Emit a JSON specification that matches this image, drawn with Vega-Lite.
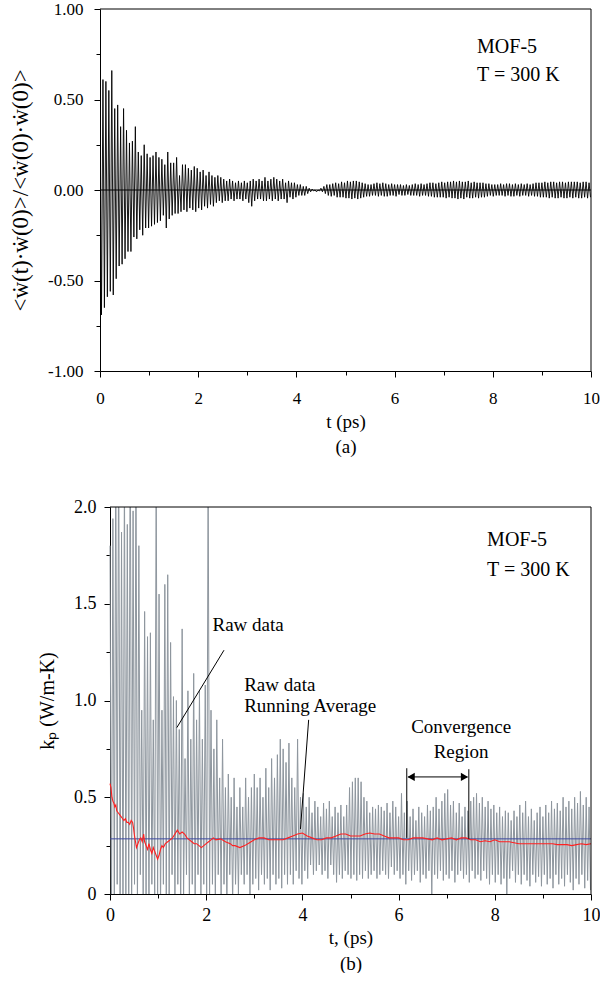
{
"$schema": "https://vega.github.io/schema/vega-lite/v6.json",
"padding": {"left": 9, "top": 0, "right": 0, "bottom": 0},
"spacing": 42,
"config": {
 "view": {"stroke": null},
 "font": "Liberation Serif",
 "axis": {"grid": false, "domainColor": "#000", "tickColor": "#000", "labelColor": "#000", "titleColor": "#000", "labelFont": "Liberation Serif", "titleFont": "Liberation Serif", "titleFontWeight": "normal", "labelFlush": false, "labelOverlap": false, "domainWidth": 1, "tickWidth": 1},
 "text": {"font": "Liberation Serif", "fontSize": 19, "color": "#000"}
},
"datasets": {
 "a": [
{"t":0.00,"v":0.55},{"t":0.03,"v":-0.69},{"t":0.06,"v":0.61},{"t":0.09,"v":-0.65},{"t":0.12,"v":0.60},{"t":0.15,"v":-0.59},{"t":0.18,"v":0.55},{"t":0.21,"v":-0.56},{"t":0.24,"v":0.66},{"t":0.27,"v":-0.58},
{"t":0.30,"v":0.45},{"t":0.33,"v":-0.49},{"t":0.36,"v":0.47},{"t":0.39,"v":-0.42},{"t":0.42,"v":0.35},{"t":0.45,"v":-0.41},{"t":0.48,"v":0.45},{"t":0.51,"v":-0.38},{"t":0.54,"v":0.33},{"t":0.57,"v":-0.34},
{"t":0.60,"v":0.26},{"t":0.63,"v":-0.34},{"t":0.66,"v":0.27},{"t":0.69,"v":-0.26},{"t":0.72,"v":0.35},{"t":0.75,"v":-0.27},{"t":0.78,"v":0.21},{"t":0.81,"v":-0.22},{"t":0.84,"v":0.19},{"t":0.87,"v":-0.25},
{"t":0.90,"v":0.25},{"t":0.93,"v":-0.21},{"t":0.96,"v":0.20},{"t":0.99,"v":-0.21},{"t":1.02,"v":0.18},{"t":1.05,"v":-0.20},{"t":1.08,"v":0.19},{"t":1.11,"v":-0.19},{"t":1.14,"v":0.21},{"t":1.17,"v":-0.18},
{"t":1.20,"v":0.18},{"t":1.23,"v":-0.17},{"t":1.26,"v":0.17},{"t":1.29,"v":-0.14},{"t":1.32,"v":0.14},{"t":1.35,"v":-0.21},{"t":1.38,"v":0.21},{"t":1.41,"v":-0.16},{"t":1.44,"v":0.15},{"t":1.47,"v":-0.14},
{"t":1.50,"v":0.15},{"t":1.53,"v":-0.13},{"t":1.56,"v":0.18},{"t":1.59,"v":-0.13},{"t":1.62,"v":0.08},{"t":1.65,"v":-0.12},{"t":1.68,"v":0.14},{"t":1.71,"v":-0.11},{"t":1.74,"v":0.14},{"t":1.77,"v":-0.12},
{"t":1.80,"v":0.12},{"t":1.83,"v":-0.10},{"t":1.86,"v":0.11},{"t":1.89,"v":-0.11},{"t":1.92,"v":0.13},{"t":1.95,"v":-0.12},{"t":1.98,"v":0.12},{"t":2.01,"v":-0.10},{"t":2.04,"v":0.10},{"t":2.07,"v":-0.11},
{"t":2.10,"v":0.11},{"t":2.13,"v":-0.09},{"t":2.16,"v":0.08},{"t":2.19,"v":-0.10},{"t":2.22,"v":0.10},{"t":2.25,"v":-0.08},{"t":2.28,"v":0.08},{"t":2.31,"v":-0.09},{"t":2.34,"v":0.07},{"t":2.37,"v":-0.07},
{"t":2.40,"v":0.08},{"t":2.43,"v":-0.06},{"t":2.46,"v":0.07},{"t":2.49,"v":-0.07},{"t":2.52,"v":0.06},{"t":2.55,"v":-0.06},{"t":2.58,"v":0.05},{"t":2.61,"v":-0.06},{"t":2.64,"v":0.06},{"t":2.67,"v":-0.05},
{"t":2.70,"v":0.05},{"t":2.73,"v":-0.06},{"t":2.76,"v":0.04},{"t":2.79,"v":-0.05},{"t":2.82,"v":0.05},{"t":2.85,"v":-0.05},{"t":2.88,"v":0.04},{"t":2.91,"v":-0.06},{"t":2.94,"v":0.05},{"t":2.97,"v":-0.05},
{"t":3.00,"v":0.04},{"t":3.03,"v":-0.07},{"t":3.06,"v":0.05},{"t":3.09,"v":-0.09},{"t":3.12,"v":0.06},{"t":3.15,"v":-0.06},{"t":3.18,"v":0.05},{"t":3.21,"v":-0.05},{"t":3.24,"v":0.06},{"t":3.27,"v":-0.05},
{"t":3.30,"v":0.05},{"t":3.33,"v":-0.06},{"t":3.36,"v":0.07},{"t":3.39,"v":-0.06},{"t":3.42,"v":0.05},{"t":3.45,"v":-0.05},{"t":3.48,"v":0.06},{"t":3.51,"v":-0.06},{"t":3.54,"v":0.07},{"t":3.57,"v":-0.05},
{"t":3.60,"v":0.06},{"t":3.63,"v":-0.06},{"t":3.66,"v":0.05},{"t":3.69,"v":-0.05},{"t":3.72,"v":0.06},{"t":3.75,"v":-0.05},{"t":3.78,"v":0.04},{"t":3.81,"v":-0.07},{"t":3.84,"v":0.05},{"t":3.87,"v":-0.04},
{"t":3.90,"v":0.04},{"t":3.93,"v":-0.05},{"t":3.96,"v":0.04},{"t":3.99,"v":-0.04},{"t":4.02,"v":0.03},{"t":4.05,"v":-0.03},{"t":4.08,"v":0.03},{"t":4.11,"v":-0.03},{"t":4.14,"v":0.02},{"t":4.17,"v":-0.03},
{"t":4.20,"v":0.02},{"t":4.23,"v":-0.02},{"t":4.26,"v":0.01},{"t":4.29,"v":-0.01},{"t":4.32,"v":0.005},{"t":4.35,"v":-0.005},{"t":4.38,"v":0.0},{"t":4.41,"v":-0.01},{"t":4.44,"v":0.0},{"t":4.47,"v":-0.005},
{"t":4.50,"v":0.01},{"t":4.53,"v":-0.01},{"t":4.56,"v":0.02},{"t":4.59,"v":-0.02},{"t":4.62,"v":0.03},{"t":4.65,"v":-0.03},{"t":4.68,"v":0.03},{"t":4.71,"v":-0.035},{"t":4.74,"v":0.035},{"t":4.77,"v":-0.03},
{"t":4.80,"v":0.04},{"t":4.83,"v":-0.04},{"t":4.86,"v":0.035},{"t":4.89,"v":-0.04},{"t":4.92,"v":0.045},{"t":4.95,"v":-0.04},{"t":4.98,"v":0.04},{"t":5.01,"v":-0.045},{"t":5.04,"v":0.05},{"t":5.07,"v":-0.045},
{"t":5.10,"v":0.045},{"t":5.13,"v":-0.05},{"t":5.16,"v":0.05},{"t":5.19,"v":-0.045},{"t":5.22,"v":0.05},{"t":5.25,"v":-0.05},{"t":5.28,"v":0.045},{"t":5.31,"v":-0.045},{"t":5.34,"v":0.04},{"t":5.37,"v":-0.04},
{"t":5.40,"v":0.035},{"t":5.43,"v":-0.035},{"t":5.46,"v":0.03},{"t":5.49,"v":-0.035},{"t":5.52,"v":0.03},{"t":5.55,"v":-0.03},{"t":5.58,"v":0.035},{"t":5.61,"v":-0.03},{"t":5.64,"v":0.04},{"t":5.67,"v":-0.035},
{"t":5.70,"v":0.035},{"t":5.73,"v":-0.03},{"t":5.76,"v":0.04},{"t":5.79,"v":-0.035},{"t":5.82,"v":0.035},{"t":5.85,"v":-0.035},{"t":5.88,"v":0.03},{"t":5.91,"v":-0.03},{"t":5.94,"v":0.035},{"t":5.97,"v":-0.03},
{"t":6.00,"v":0.03},{"t":6.03,"v":-0.035},{"t":6.06,"v":0.03},{"t":6.09,"v":-0.025},{"t":6.12,"v":0.03},{"t":6.15,"v":-0.03},{"t":6.18,"v":0.025},{"t":6.21,"v":-0.03},{"t":6.24,"v":0.03},{"t":6.27,"v":-0.025},
{"t":6.30,"v":0.025},{"t":6.33,"v":-0.03},{"t":6.36,"v":0.03},{"t":6.39,"v":-0.03},{"t":6.42,"v":0.035},{"t":6.45,"v":-0.03},{"t":6.48,"v":0.03},{"t":6.51,"v":-0.035},{"t":6.54,"v":0.035},{"t":6.57,"v":-0.03},
{"t":6.60,"v":0.03},{"t":6.63,"v":-0.03},{"t":6.66,"v":0.035},{"t":6.69,"v":-0.035},{"t":6.72,"v":0.04},{"t":6.75,"v":-0.035},{"t":6.78,"v":0.04},{"t":6.81,"v":-0.04},{"t":6.84,"v":0.035},{"t":6.87,"v":-0.04},
{"t":6.90,"v":0.04},{"t":6.93,"v":-0.04},{"t":6.96,"v":0.045},{"t":6.99,"v":-0.04},{"t":7.02,"v":0.04},{"t":7.05,"v":-0.045},{"t":7.08,"v":0.045},{"t":7.11,"v":-0.04},{"t":7.14,"v":0.045},{"t":7.17,"v":-0.045},
{"t":7.20,"v":0.05},{"t":7.23,"v":-0.045},{"t":7.26,"v":0.045},{"t":7.29,"v":-0.05},{"t":7.32,"v":0.05},{"t":7.35,"v":-0.045},{"t":7.38,"v":0.045},{"t":7.41,"v":-0.05},{"t":7.44,"v":0.045},{"t":7.47,"v":-0.04},
{"t":7.50,"v":0.05},{"t":7.53,"v":-0.045},{"t":7.56,"v":0.04},{"t":7.59,"v":-0.045},{"t":7.62,"v":0.045},{"t":7.65,"v":-0.04},{"t":7.68,"v":0.04},{"t":7.71,"v":-0.045},{"t":7.74,"v":0.04},{"t":7.77,"v":-0.04},
{"t":7.80,"v":0.04},{"t":7.83,"v":-0.04},{"t":7.86,"v":0.035},{"t":7.89,"v":-0.035},{"t":7.92,"v":0.035},{"t":7.95,"v":-0.03},{"t":7.98,"v":0.03},{"t":8.01,"v":-0.035},{"t":8.04,"v":0.03},{"t":8.07,"v":-0.03},
{"t":8.10,"v":0.03},{"t":8.13,"v":-0.03},{"t":8.16,"v":0.035},{"t":8.19,"v":-0.03},{"t":8.22,"v":0.03},{"t":8.25,"v":-0.035},{"t":8.28,"v":0.035},{"t":8.31,"v":-0.03},{"t":8.34,"v":0.035},{"t":8.37,"v":-0.035},
{"t":8.40,"v":0.03},{"t":8.43,"v":-0.035},{"t":8.46,"v":0.035},{"t":8.49,"v":-0.03},{"t":8.52,"v":0.03},{"t":8.55,"v":-0.035},{"t":8.58,"v":0.035},{"t":8.61,"v":-0.03},{"t":8.64,"v":0.03},{"t":8.67,"v":-0.03},
{"t":8.70,"v":0.035},{"t":8.73,"v":-0.035},{"t":8.76,"v":0.03},{"t":8.79,"v":-0.03},{"t":8.82,"v":0.035},{"t":8.85,"v":-0.035},{"t":8.88,"v":0.04},{"t":8.91,"v":-0.035},{"t":8.94,"v":0.04},{"t":8.97,"v":-0.04},
{"t":9.00,"v":0.04},{"t":9.03,"v":-0.04},{"t":9.06,"v":0.045},{"t":9.09,"v":-0.04},{"t":9.12,"v":0.04},{"t":9.15,"v":-0.045},{"t":9.18,"v":0.045},{"t":9.21,"v":-0.04},{"t":9.24,"v":0.045},{"t":9.27,"v":-0.045},
{"t":9.30,"v":0.04},{"t":9.33,"v":-0.045},{"t":9.36,"v":0.045},{"t":9.39,"v":-0.04},{"t":9.42,"v":0.045},{"t":9.45,"v":-0.045},{"t":9.48,"v":0.04},{"t":9.51,"v":-0.045},{"t":9.54,"v":0.045},{"t":9.57,"v":-0.04},
{"t":9.60,"v":0.045},{"t":9.63,"v":-0.045},{"t":9.66,"v":0.045},{"t":9.69,"v":-0.04},{"t":9.72,"v":0.045},{"t":9.75,"v":-0.045},{"t":9.78,"v":0.04},{"t":9.81,"v":-0.045},{"t":9.84,"v":0.045},{"t":9.87,"v":-0.04},
{"t":9.90,"v":0.045},{"t":9.93,"v":-0.045},{"t":9.96,"v":0.04},{"t":9.99,"v":-0.04}
 ],
 "b": [
{"t":0.00,"v":1.8},{"t":0.03,"v":-0.2},{"t":0.06,"v":1.94},{"t":0.09,"v":-0.1},{"t":0.12,"v":2.3},{"t":0.15,"v":0.05},{"t":0.18,"v":2.4},{"t":0.21,"v":-0.1},{"t":0.24,"v":1.87},{"t":0.27,"v":-0.2},
{"t":0.30,"v":2.2},{"t":0.33,"v":0.0},{"t":0.36,"v":1.91},{"t":0.39,"v":-0.1},{"t":0.42,"v":2.5},{"t":0.45,"v":-0.05},{"t":0.48,"v":1.98},{"t":0.51,"v":0.05},{"t":0.54,"v":2.3},{"t":0.57,"v":-0.1},
{"t":0.60,"v":1.80},{"t":0.63,"v":0.1},{"t":0.66,"v":0.95},{"t":0.69,"v":-0.05},{"t":0.72,"v":1.46},{"t":0.75,"v":0.0},{"t":0.78,"v":1.33},{"t":0.81,"v":-0.1},{"t":0.84,"v":1.35},{"t":0.87,"v":0.05},
{"t":0.90,"v":0.9},{"t":0.93,"v":-0.05},{"t":0.96,"v":2.2},{"t":0.99,"v":0.0},{"t":1.02,"v":1.55},{"t":1.05,"v":-0.1},{"t":1.08,"v":0.95},{"t":1.11,"v":0.05},{"t":1.14,"v":1.60},{"t":1.17,"v":-0.05},
{"t":1.20,"v":1.65},{"t":1.23,"v":0.0},{"t":1.26,"v":1.30},{"t":1.29,"v":0.1},{"t":1.32,"v":1.02},{"t":1.35,"v":-0.05},{"t":1.38,"v":1.0},{"t":1.41,"v":0.05},{"t":1.44,"v":0.85},{"t":1.47,"v":-0.1},
{"t":1.50,"v":1.37},{"t":1.53,"v":0.0},{"t":1.56,"v":0.7},{"t":1.59,"v":0.1},{"t":1.62,"v":1.05},{"t":1.65,"v":-0.05},{"t":1.68,"v":0.8},{"t":1.71,"v":0.05},{"t":1.74,"v":1.14},{"t":1.77,"v":-0.05},
{"t":1.80,"v":0.9},{"t":1.83,"v":0.1},{"t":1.86,"v":1.05},{"t":1.89,"v":0.0},{"t":1.92,"v":0.8},{"t":1.95,"v":0.05},{"t":1.98,"v":1.08},{"t":2.01,"v":-0.05},{"t":2.04,"v":2.2},{"t":2.07,"v":0.0},
{"t":2.10,"v":0.95},{"t":2.13,"v":0.05},{"t":2.16,"v":0.75},{"t":2.19,"v":-0.05},{"t":2.22,"v":0.9},{"t":2.25,"v":0.1},{"t":2.28,"v":0.6},{"t":2.31,"v":0.0},{"t":2.34,"v":0.8},{"t":2.37,"v":0.05},
{"t":2.40,"v":0.55},{"t":2.43,"v":-0.05},{"t":2.46,"v":0.62},{"t":2.49,"v":0.1},{"t":2.52,"v":0.5},{"t":2.55,"v":-0.05},{"t":2.58,"v":0.6},{"t":2.61,"v":0.05},{"t":2.64,"v":0.45},{"t":2.67,"v":0.0},
{"t":2.70,"v":0.55},{"t":2.73,"v":0.1},{"t":2.76,"v":0.45},{"t":2.79,"v":0.05},{"t":2.82,"v":0.6},{"t":2.85,"v":0.1},{"t":2.88,"v":0.5},{"t":2.91,"v":0.0},{"t":2.94,"v":0.55},{"t":2.97,"v":0.05},
{"t":3.00,"v":0.62},{"t":3.03,"v":0.08},{"t":3.06,"v":0.55},{"t":3.09,"v":0.02},{"t":3.12,"v":0.6},{"t":3.15,"v":0.1},{"t":3.18,"v":0.5},{"t":3.21,"v":0.05},{"t":3.24,"v":0.65},{"t":3.27,"v":0.08},
{"t":3.30,"v":0.55},{"t":3.33,"v":0.02},{"t":3.36,"v":0.7},{"t":3.39,"v":0.1},{"t":3.42,"v":0.6},{"t":3.45,"v":0.05},{"t":3.48,"v":0.72},{"t":3.51,"v":0.08},{"t":3.54,"v":0.8},{"t":3.57,"v":0.03},
{"t":3.60,"v":0.75},{"t":3.63,"v":0.1},{"t":3.66,"v":0.68},{"t":3.69,"v":0.05},{"t":3.72,"v":0.78},{"t":3.75,"v":0.1},{"t":3.78,"v":0.6},{"t":3.81,"v":0.05},{"t":3.84,"v":0.55},{"t":3.87,"v":0.12},
{"t":3.90,"v":0.8},{"t":3.93,"v":0.08},{"t":3.96,"v":0.5},{"t":3.99,"v":0.05},{"t":4.02,"v":0.52},{"t":4.05,"v":0.12},{"t":4.08,"v":0.45},{"t":4.11,"v":0.08},{"t":4.14,"v":0.5},{"t":4.17,"v":0.15},
{"t":4.20,"v":0.42},{"t":4.23,"v":0.1},{"t":4.26,"v":0.48},{"t":4.29,"v":0.12},{"t":4.32,"v":0.45},{"t":4.35,"v":0.15},{"t":4.38,"v":0.4},{"t":4.41,"v":0.1},{"t":4.44,"v":0.47},{"t":4.47,"v":0.12},
{"t":4.50,"v":0.44},{"t":4.53,"v":0.08},{"t":4.56,"v":0.48},{"t":4.59,"v":0.15},{"t":4.62,"v":0.4},{"t":4.65,"v":0.1},{"t":4.68,"v":0.45},{"t":4.71,"v":0.06},{"t":4.74,"v":0.42},{"t":4.77,"v":0.1},
{"t":4.80,"v":0.46},{"t":4.83,"v":0.08},{"t":4.86,"v":0.4},{"t":4.89,"v":0.12},{"t":4.92,"v":0.46},{"t":4.95,"v":0.1},{"t":4.98,"v":0.55},{"t":5.01,"v":0.08},{"t":5.04,"v":0.58},{"t":5.07,"v":0.1},
{"t":5.10,"v":0.6},{"t":5.13,"v":0.07},{"t":5.16,"v":0.6},{"t":5.19,"v":0.1},{"t":5.22,"v":0.58},{"t":5.25,"v":0.08},{"t":5.28,"v":0.5},{"t":5.31,"v":0.12},{"t":5.34,"v":0.48},{"t":5.37,"v":0.08},
{"t":5.40,"v":0.42},{"t":5.43,"v":0.1},{"t":5.46,"v":0.45},{"t":5.49,"v":0.12},{"t":5.52,"v":0.44},{"t":5.55,"v":0.08},{"t":5.58,"v":0.46},{"t":5.61,"v":0.1},{"t":5.64,"v":0.45},{"t":5.67,"v":0.12},
{"t":5.70,"v":0.43},{"t":5.73,"v":0.1},{"t":5.76,"v":0.47},{"t":5.79,"v":0.08},{"t":5.82,"v":0.42},{"t":5.85,"v":0.14},{"t":5.88,"v":0.48},{"t":5.91,"v":0.1},{"t":5.94,"v":0.45},{"t":5.97,"v":0.12},
{"t":6.00,"v":0.4},{"t":6.03,"v":0.08},{"t":6.06,"v":0.52},{"t":6.09,"v":0.1},{"t":6.12,"v":0.42},{"t":6.15,"v":0.05},{"t":6.18,"v":0.48},{"t":6.21,"v":0.12},{"t":6.24,"v":0.4},{"t":6.27,"v":0.07},
{"t":6.30,"v":0.44},{"t":6.33,"v":0.1},{"t":6.36,"v":0.38},{"t":6.39,"v":0.12},{"t":6.42,"v":0.45},{"t":6.45,"v":0.06},{"t":6.48,"v":0.42},{"t":6.51,"v":0.1},{"t":6.54,"v":0.4},{"t":6.57,"v":0.08},
{"t":6.60,"v":0.46},{"t":6.63,"v":0.12},{"t":6.66,"v":0.43},{"t":6.69,"v":0.0},{"t":6.72,"v":0.45},{"t":6.75,"v":0.1},{"t":6.78,"v":0.5},{"t":6.81,"v":0.08},{"t":6.84,"v":0.44},{"t":6.87,"v":0.12},
{"t":6.90,"v":0.48},{"t":6.93,"v":0.07},{"t":6.96,"v":0.52},{"t":6.99,"v":0.1},{"t":7.02,"v":0.54},{"t":7.05,"v":0.08},{"t":7.08,"v":0.46},{"t":7.11,"v":0.12},{"t":7.14,"v":0.48},{"t":7.17,"v":0.06},
{"t":7.20,"v":0.42},{"t":7.23,"v":0.1},{"t":7.26,"v":0.47},{"t":7.29,"v":0.12},{"t":7.32,"v":0.4},{"t":7.35,"v":0.08},{"t":7.38,"v":0.45},{"t":7.41,"v":0.1},{"t":7.44,"v":0.43},{"t":7.47,"v":0.06},
{"t":7.50,"v":0.48},{"t":7.53,"v":0.12},{"t":7.56,"v":0.5},{"t":7.59,"v":0.08},{"t":7.62,"v":0.52},{"t":7.65,"v":0.1},{"t":7.68,"v":0.47},{"t":7.71,"v":0.07},{"t":7.74,"v":0.5},{"t":7.77,"v":0.12},
{"t":7.80,"v":0.45},{"t":7.83,"v":0.08},{"t":7.86,"v":0.48},{"t":7.89,"v":0.05},{"t":7.92,"v":0.44},{"t":7.95,"v":0.1},{"t":7.98,"v":0.46},{"t":8.01,"v":0.06},{"t":8.04,"v":0.42},{"t":8.07,"v":0.1},
{"t":8.10,"v":0.45},{"t":8.13,"v":0.05},{"t":8.16,"v":0.4},{"t":8.19,"v":0.08},{"t":8.22,"v":0.43},{"t":8.25,"v":0.0},{"t":8.28,"v":0.42},{"t":8.31,"v":0.08},{"t":8.34,"v":0.38},{"t":8.37,"v":0.12},
{"t":8.40,"v":0.43},{"t":8.43,"v":0.06},{"t":8.46,"v":0.4},{"t":8.49,"v":0.1},{"t":8.52,"v":0.46},{"t":8.55,"v":0.05},{"t":8.58,"v":0.42},{"t":8.61,"v":0.1},{"t":8.64,"v":0.48},{"t":8.67,"v":0.07},
{"t":8.70,"v":0.4},{"t":8.73,"v":0.04},{"t":8.76,"v":0.44},{"t":8.79,"v":0.1},{"t":8.82,"v":0.38},{"t":8.85,"v":0.06},{"t":8.88,"v":0.42},{"t":8.91,"v":0.09},{"t":8.94,"v":0.45},{"t":8.97,"v":0.04},
{"t":9.00,"v":0.4},{"t":9.03,"v":0.1},{"t":9.06,"v":0.46},{"t":9.09,"v":0.05},{"t":9.12,"v":0.42},{"t":9.15,"v":0.08},{"t":9.18,"v":0.48},{"t":9.21,"v":0.03},{"t":9.24,"v":0.44},{"t":9.27,"v":0.1},
{"t":9.30,"v":0.47},{"t":9.33,"v":0.05},{"t":9.36,"v":0.43},{"t":9.39,"v":0.08},{"t":9.42,"v":0.5},{"t":9.45,"v":0.04},{"t":9.48,"v":0.45},{"t":9.51,"v":0.1},{"t":9.54,"v":0.48},{"t":9.57,"v":0.06},
{"t":9.60,"v":0.44},{"t":9.63,"v":0.02},{"t":9.66,"v":0.5},{"t":9.69,"v":0.08},{"t":9.72,"v":0.47},{"t":9.75,"v":0.05},{"t":9.78,"v":0.53},{"t":9.81,"v":0.1},{"t":9.84,"v":0.46},{"t":9.87,"v":0.03},
{"t":9.90,"v":0.5},{"t":9.93,"v":0.07},{"t":9.96,"v":0.45},{"t":9.99,"v":0.02}
 ],
 "avg": [
{"t":0,"v":0.57},{"t":0.02,"v":0.55},{"t":0.04,"v":0.50},{"t":0.06,"v":0.48},{"t":0.08,"v":0.47},{"t":0.1,"v":0.45},{"t":0.12,"v":0.46},{"t":0.14,"v":0.43},{"t":0.17,"v":0.42},{"t":0.2,"v":0.41},
{"t":0.23,"v":0.40},{"t":0.26,"v":0.39},{"t":0.29,"v":0.38},{"t":0.32,"v":0.39},{"t":0.35,"v":0.37},{"t":0.38,"v":0.37},{"t":0.41,"v":0.36},{"t":0.44,"v":0.38},{"t":0.47,"v":0.37},{"t":0.49,"v":0.34},
{"t":0.51,"v":0.30},{"t":0.53,"v":0.27},{"t":0.55,"v":0.24},{"t":0.58,"v":0.26},{"t":0.61,"v":0.28},{"t":0.64,"v":0.29},{"t":0.67,"v":0.27},{"t":0.70,"v":0.31},{"t":0.72,"v":0.27},{"t":0.75,"v":0.25},
{"t":0.78,"v":0.23},{"t":0.81,"v":0.26},{"t":0.84,"v":0.23},{"t":0.87,"v":0.21},{"t":0.90,"v":0.24},{"t":0.93,"v":0.22},{"t":0.96,"v":0.20},{"t":0.99,"v":0.18},{"t":1.02,"v":0.20},{"t":1.05,"v":0.23},
{"t":1.08,"v":0.25},{"t":1.11,"v":0.24},{"t":1.15,"v":0.26},{"t":1.2,"v":0.27},{"t":1.25,"v":0.28},{"t":1.3,"v":0.29},{"t":1.35,"v":0.31},{"t":1.4,"v":0.33},{"t":1.45,"v":0.31},{"t":1.5,"v":0.32},
{"t":1.55,"v":0.31},{"t":1.6,"v":0.29},{"t":1.65,"v":0.28},{"t":1.7,"v":0.27},{"t":1.75,"v":0.26},{"t":1.8,"v":0.26},{"t":1.85,"v":0.25},{"t":1.9,"v":0.24},{"t":1.95,"v":0.25},{"t":2.0,"v":0.26},
{"t":2.05,"v":0.27},{"t":2.1,"v":0.28},{"t":2.15,"v":0.29},{"t":2.2,"v":0.28},{"t":2.3,"v":0.285},{"t":2.4,"v":0.27},{"t":2.5,"v":0.26},{"t":2.55,"v":0.25},{"t":2.6,"v":0.25},{"t":2.7,"v":0.24},
{"t":2.8,"v":0.25},{"t":2.9,"v":0.265},{"t":3.0,"v":0.28},{"t":3.1,"v":0.29},{"t":3.2,"v":0.29},{"t":3.3,"v":0.28},{"t":3.4,"v":0.28},{"t":3.5,"v":0.28},{"t":3.6,"v":0.28},{"t":3.7,"v":0.29},
{"t":3.8,"v":0.30},{"t":3.9,"v":0.31},{"t":4.0,"v":0.315},{"t":4.1,"v":0.30},{"t":4.2,"v":0.29},{"t":4.3,"v":0.28},{"t":4.4,"v":0.28},{"t":4.5,"v":0.29},{"t":4.6,"v":0.29},{"t":4.7,"v":0.30},
{"t":4.8,"v":0.31},{"t":4.9,"v":0.31},{"t":5.0,"v":0.30},{"t":5.1,"v":0.30},{"t":5.2,"v":0.30},{"t":5.3,"v":0.31},{"t":5.4,"v":0.315},{"t":5.5,"v":0.31},{"t":5.6,"v":0.31},{"t":5.7,"v":0.30},
{"t":5.8,"v":0.29},{"t":5.9,"v":0.29},{"t":6.0,"v":0.29},{"t":6.1,"v":0.28},{"t":6.2,"v":0.28},{"t":6.3,"v":0.29},{"t":6.4,"v":0.29},{"t":6.5,"v":0.29},{"t":6.6,"v":0.285},{"t":6.7,"v":0.28},
{"t":6.8,"v":0.29},{"t":6.9,"v":0.28},{"t":7.0,"v":0.285},{"t":7.1,"v":0.29},{"t":7.2,"v":0.28},{"t":7.3,"v":0.29},{"t":7.4,"v":0.29},{"t":7.5,"v":0.28},{"t":7.6,"v":0.28},{"t":7.7,"v":0.27},
{"t":7.8,"v":0.275},{"t":7.9,"v":0.27},{"t":8.0,"v":0.28},{"t":8.1,"v":0.27},{"t":8.2,"v":0.27},{"t":8.3,"v":0.27},{"t":8.4,"v":0.265},{"t":8.5,"v":0.26},{"t":8.6,"v":0.26},{"t":8.7,"v":0.26},
{"t":8.8,"v":0.26},{"t":8.9,"v":0.26},{"t":9.0,"v":0.26},{"t":9.1,"v":0.26},{"t":9.2,"v":0.26},{"t":9.3,"v":0.255},{"t":9.4,"v":0.255},{"t":9.5,"v":0.255},{"t":9.6,"v":0.25},{"t":9.7,"v":0.255},
{"t":9.8,"v":0.26},{"t":9.9,"v":0.255},{"t":10.0,"v":0.26}
 ],
 "lines": [
  {"x1":2.37,"y1":1.26,"x2":1.39,"y2":0.86},
  {"x1":4.13,"y1":0.90,"x2":3.96,"y2":0.336},
  {"x1":6.17,"y1":0.29,"x2":6.17,"y2":0.65},
  {"x1":7.46,"y1":0.285,"x2":7.46,"y2":0.645},
  {"x1":6.2,"y1":0.605,"x2":7.43,"y2":0.605}
 ],
 "heads": [
  {"x":6.26,"y":0.605,"s":"triangle-left"},
  {"x":7.37,"y":0.605,"s":"triangle-right"}
 ]
},
"vconcat": [
 {
  "width": 491, "height": 362,
  "layer": [
   {"data": {"name": "a"},
    "mark": {"type": "line", "color": "#000", "strokeWidth": 0.9, "clip": true},
    "encoding": {
     "x": {"field": "t", "type": "quantitative", "scale": {"domain": [0, 10], "nice": false},
       "axis": {"values": [0,1,2,3,4,5,6,7,8,9,10], "labelExpr": "datum.value % 2 === 0 ? datum.label : ''",
        "tickSize": {"condition": {"test": "datum.value % 2 !== 0", "value": 4}, "value": 6},
        "labelFontSize": 17, "labelPadding": 13, "title": ["t (ps)", "(a)"], "titleFontSize": 19, "titleLineHeight": 25, "titlePadding": 6}},
     "y": {"field": "v", "type": "quantitative", "scale": {"domain": [-1, 1], "nice": false},
       "axis": {"values": [-1,-0.75,-0.5,-0.25,0,0.25,0.5,0.75,1],
        "labelExpr": "abs(datum.value*2-round(datum.value*2))>0.01 ? '' : replace(format(datum.value,'.2f'),'\u2212','-')",
        "tickSize": {"condition": {"test": "abs(datum.value*2-round(datum.value*2))>0.01", "value": 4}, "value": 6},
        "labelFontSize": 17, "labelPadding": 11, "title": "<ẇ(t)·ẇ(0)>/<ẇ(0)·ẇ(0)>", "titleFontSize": 23, "titlePadding": 15}}
    }},
   {"data": {"values": [{}]}, "mark": {"type": "rule", "color": "#000", "strokeWidth": 1}, "encoding": {"y": {"datum": 0}}},
   {"data": {"values": [{}]}, "mark": {"type": "rule", "color": "#000", "strokeWidth": 1}, "encoding": {"y": {"datum": 1}}},
   {"data": {"values": [{}]}, "mark": {"type": "rule", "color": "#000", "strokeWidth": 1}, "encoding": {"x": {"datum": 10}}},
   {"data": {"values": [{}]}, "mark": {"type": "text", "align": "left", "baseline": "alphabetic", "text": ["MOF-5", "T = 300 K"], "lineHeight": 28, "fontSize": 20},
    "encoding": {"x": {"datum": 7.68}, "y": {"datum": 0.758}}}
  ]
 },
 {
  "width": 491, "height": 387,
  "layer": [
   {"data": {"name": "b"},
    "mark": {"type": "line", "color": "#8e969e", "strokeWidth": 1, "clip": true},
    "encoding": {
     "x": {"field": "t", "type": "quantitative", "scale": {"domain": [0, 10], "range": [10, 491], "nice": false},
       "axis": {"values": [0,1,2,3,4,5,6,7,8,9,10], "labelExpr": "datum.value % 2 === 0 ? datum.label : ''",
        "tickSize": {"condition": {"test": "datum.value % 2 !== 0", "value": 4}, "value": 6},
        "labelFontSize": 18, "labelPadding": 6, "title": ["t, (ps)", "(b)"], "titleFontSize": 19, "titleLineHeight": 26, "titlePadding": 4}},
     "y": {"field": "v", "type": "quantitative", "scale": {"domain": [0, 2], "nice": false},
       "axis": {"values": [0,0.25,0.5,0.75,1,1.25,1.5,1.75,2], "offset": -10,
        "labelExpr": "abs(datum.value*2-round(datum.value*2))>0.01 ? '' : (datum.value === 0 ? '0' : format(datum.value,'.1f'))",
        "tickSize": {"condition": {"test": "abs(datum.value*2-round(datum.value*2))>0.01", "value": 4}, "value": 6},
        "labelFontSize": 18, "labelPadding": 8, "title": "kₚ (W/m-K)", "titleFontSize": 20, "titlePadding": 16}}
    }},
   {"data": {"values": [{}]}, "mark": {"type": "rule", "color": "#3d4a9e", "strokeWidth": 1},
    "encoding": {"x": {"datum": 0}, "x2": {"datum": 10}, "y": {"datum": 0.285}}},
   {"data": {"name": "avg"}, "mark": {"type": "line", "color": "#ff2020", "strokeWidth": 1.1},
    "encoding": {"x": {"field": "t", "type": "quantitative"}, "y": {"field": "v", "type": "quantitative"}}},
   {"data": {"values": [{}]}, "mark": {"type": "rule", "color": "#000", "strokeWidth": 1},
    "encoding": {"x": {"datum": 0}, "x2": {"datum": 10}, "y": {"datum": 2}}},
   {"data": {"values": [{}]}, "mark": {"type": "rule", "color": "#000", "strokeWidth": 1},
    "encoding": {"x": {"datum": 10}, "y": {"datum": 0}, "y2": {"datum": 2}}},
   {"data": {"name": "lines"}, "mark": {"type": "rule", "color": "#000", "strokeWidth": 1},
    "encoding": {"x": {"field": "x1", "type": "quantitative"}, "x2": {"field": "x2"}, "y": {"field": "y1", "type": "quantitative"}, "y2": {"field": "y2"}}},
   {"data": {"name": "heads"}, "mark": {"type": "point", "filled": true, "color": "#000", "opacity": 1, "size": 70},
    "encoding": {"x": {"field": "x", "type": "quantitative"}, "y": {"field": "y", "type": "quantitative"}, "shape": {"field": "s", "type": "nominal", "scale": null}}},
   {"data": {"values": [{}]}, "mark": {"type": "text", "align": "left", "baseline": "alphabetic", "text": ["MOF-5", "T = 300 K"], "lineHeight": 30, "fontSize": 20},
    "encoding": {"x": {"datum": 7.84}, "y": {"datum": 1.798}}},
   {"data": {"values": [{}]}, "mark": {"type": "text", "align": "left", "baseline": "alphabetic", "text": "Raw data", "fontSize": 19},
    "encoding": {"x": {"datum": 2.13}, "y": {"datum": 1.359}}},
   {"data": {"values": [{}]}, "mark": {"type": "text", "align": "left", "baseline": "alphabetic", "text": ["Raw data", "Running Average"], "lineHeight": 21, "fontSize": 19},
    "encoding": {"x": {"datum": 2.79}, "y": {"datum": 1.049}}},
   {"data": {"values": [{}]}, "mark": {"type": "text", "align": "center", "baseline": "alphabetic", "text": ["Convergence", "Region"], "lineHeight": 25, "fontSize": 19},
    "encoding": {"x": {"datum": 7.3}, "y": {"datum": 0.83}}}
  ]
 }
]
}
